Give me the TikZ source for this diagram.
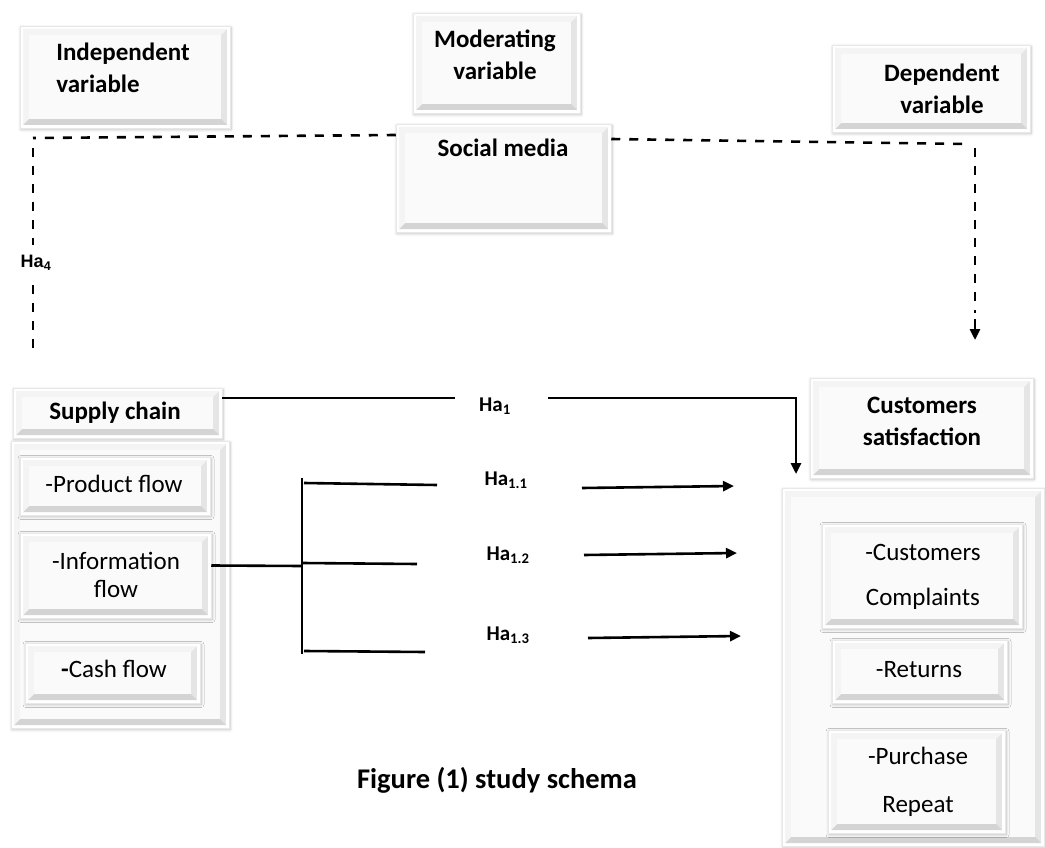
\documentclass[tikz,border=0pt]{standalone}
\usepackage{fontspec}
\setmainfont{Carlito}
\newfontfamily\arialf{Liberation Sans}
\usetikzlibrary{arrows.meta,shadows.blur,calc}

\tikzset{
  bev/.style={rectangle, draw=gray!18, line width=0.5pt, fill=white, inner sep=0pt,
    blur shadow={shadow xshift=1pt, shadow yshift=-1.5pt, shadow blur radius=3pt, shadow blur steps=6, shadow opacity=25},
    path picture={
      \coordinate (pa) at ([shift={(3pt,3pt)}]path picture bounding box.south west);
      \coordinate (pb) at ([shift={(-3pt,-3pt)}]path picture bounding box.north east);
      \coordinate (pc) at ([shift={(9pt,9pt)}]path picture bounding box.south west);
      \coordinate (pd) at ([shift={(-9pt,-9pt)}]path picture bounding box.north east);
      \fill[gray!20] (pa) rectangle (pb);
      \fill[gray!34] (pa) -- (pb|-pa) -- (pd|-pc) -- (pc) -- cycle;
      \fill[gray!9] (pa) -- (pa|-pb) -- (pb) -- (pd) -- (pc|-pd) -- (pc) -- cycle;
      \fill[gray!4] (pc) rectangle (pd);
    }},
  bt/.style={font=\bfseries\fontsize{25}{32}\selectfont, align=center, inner sep=0pt},
  nt/.style={font=\fontsize{25}{32}\selectfont, align=center, inner sep=0pt},
  hl/.style={font=\bfseries\fontsize{21}{24}\selectfont, inner sep=0pt},
  ln/.style={line width=2.6pt, line cap=butt},
  dsh/.style={line width=2.6pt, dash pattern=on 9pt off 9pt},
  arr/.style={line width=2.6pt, -{Triangle[length=11pt,width=10pt]}},
}

\begin{document}
\begin{tikzpicture}[x=1pt,y=-1pt]
\useasboundingbox (0,0) rectangle (1045,848);

% top boxes
\node[bev, minimum width=210pt, minimum height=102pt] (indep) at (125,77) {};
\node[bev, minimum width=167pt, minimum height=100pt] (moder) at (496.5,63) {};
\node[bev, minimum width=215pt, minimum height=108pt] (social) at (503.5,178) {};
\node[bev, minimum width=198pt, minimum height=87pt] (dep) at (931,88.5) {};

\node[bt, align=left] (indepT) at (123,68) {Independent\\variable};
\node[bt] (moderT) at (495,55) {Moderating\\variable};
\node[bt] (socialT) at (503,148) {Social media};
\node[bt] (depT) at (942,89) {Dependent\\variable};

% left side
\node[bev, minimum width=209pt, minimum height=50pt] (supply) at (117.5,413) {};
\node[bev, minimum width=218pt, minimum height=287pt] (scont) at (120,584.5) {};
\node[bev, minimum width=190pt, minimum height=58pt] (prod) at (115,486) {};
\node[bev, minimum width=191pt, minimum height=85pt] (info) at (115.5,575.5) {};
\node[bev, minimum width=175pt, minimum height=60pt] (cash) at (112.5,673) {};

\node[bt] (supplyT) at (115,413) {Supply chain};
\node[nt] (prodT) at (114,484) {-Product flow};
\node[nt, font=\fontsize{25}{28}\selectfont] (infoT) at (116,575) {-Information\\flow};
\node[nt] (cashT) at (114,669) {\textbf{-}Cash flow};

% right side
\node[bev, minimum width=223pt, minimum height=100pt] (cust) at (921.5,428) {};
\node[bev, minimum width=262pt, minimum height=358pt] (rcont) at (913,667) {};
\node[bev, minimum width=200pt, minimum height=104pt] (compl) at (922,576) {};
\node[bev, minimum width=175pt, minimum height=63pt] (ret) at (919.5,671.5) {};
\node[bev, minimum width=177pt, minimum height=103pt] (purch) at (916.5,781.5) {};

\node[bt] (custT) at (922,421) {Customers\\satisfaction};
\node[nt, font=\fontsize{25}{45}\selectfont] (complT) at (923,577) {-Customers\\Complaints};
\node[nt] (retT) at (919,670) {-Returns};
\node[nt, font=\fontsize{25}{48}\selectfont] (purchT) at (918,782) {-Purchase\\Repeat};

% dashed moderating connectors
\coordinate (l1) at (33,138);
\coordinate (l2) at (33,148);
\coordinate (l3) at (33,245);
\coordinate (l4) at (33,285);
\coordinate (l5) at (33,355);
\coordinate (r1) at (966,144);
\coordinate (r2) at (975,148);
\coordinate (r3) at (975,313);
\coordinate (r4) at (975,319);
\coordinate (r5) at (975,340);
\draw[dsh] ([yshift=43pt]social.west) -- (l1);
\draw[dsh] (l2) -- (l3);
\draw[dsh] (l4) -- (l5);
\node[hl, font=\arialf\bfseries\fontsize{18}{22}\selectfont] (ha4) at (36,263) {Ha\textsubscript{4}};
\draw[dsh] ([yshift=39pt]social.east) -- (r1);
\draw[dsh] (r2) -- (r3);
\draw[arr] (r4) -- (r5);

% Ha1
\coordinate (h1a) at (455,398);
\coordinate (h1b) at (548,398);
\coordinate (h1c) at (796,398);
\coordinate (h1d) at (796,474);
\draw[ln] ([yshift=15pt]supply.east) -- (h1a);
\draw[arr] (h1b) -- (h1c) -- (h1d);
\node[hl] (ha1) at (495,406) {Ha\textsubscript{1}};

% bracket
\coordinate (bt) at (302,478);
\coordinate (bb) at (302,654);
\coordinate (bm) at (302,566);
\draw[ln] (bt) -- (bb);
\draw[ln] ([yshift=10pt]info.east) -- (bm);
\coordinate (b1s) at (304,483);
\coordinate (b1e) at (437,485);
\coordinate (b2s) at (302,563);
\coordinate (b2e) at (417,564);
\coordinate (b3s) at (304,651);
\coordinate (b3e) at (425,652);
\draw[ln] (b1s) -- (b1e);
\draw[ln] (b2s) -- (b2e);
\draw[ln] (b3s) -- (b3e);

\node[hl] (ha11) at (506,480) {Ha\textsubscript{1.1}};
\node[hl] (ha12) at (508,555) {Ha\textsubscript{1.2}};
\node[hl] (ha13) at (508,635) {Ha\textsubscript{1.3}};

\coordinate (a1s) at (582,488);
\coordinate (a1e) at (734,486);
\coordinate (a2s) at (584,555);
\coordinate (a2e) at (737,553);
\coordinate (a3s) at (588,638);
\coordinate (a3e) at (741,636);
\draw[arr] (a1s) -- (a1e);
\draw[arr] (a2s) -- (a2e);
\draw[arr] (a3s) -- (a3e);

% caption
\node[bt, font=\bfseries\fontsize{28.5}{34}\selectfont] (cap) at (497,780) {Figure (1) study schema};
\end{tikzpicture}
\end{document}
